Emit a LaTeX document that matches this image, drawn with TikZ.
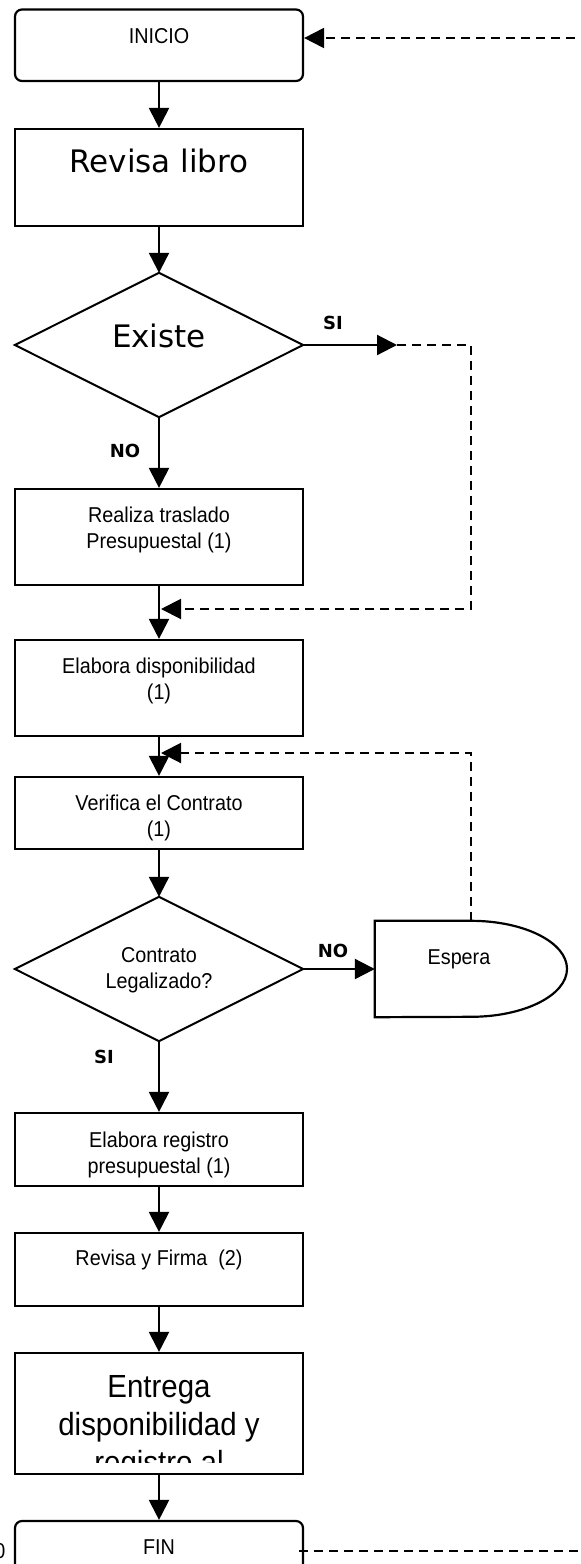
\documentclass[tikz,border=0pt]{standalone}
\usepackage{fontspec}
\setmainfont{Liberation Sans}[FakeStretch=0.92]
\newfontfamily\headfont{DejaVu Sans}
\usetikzlibrary{arrows.meta}

% multi-line label whose baseline is that of its first line
\newcommand\stackedlines[1]{\begin{tabular}[t]{@{}c@{}}#1\end{tabular}}

\begin{document}
\begin{tikzpicture}[x=1pt, y=-1pt,
  shapeline/.style={line width=2.2pt},
  box/.style={draw, shapeline, rectangle, inner sep=0pt, minimum width=288pt},
  terminal/.style={box, rounded corners=7pt},
  frame/.style={rectangle, inner sep=0pt},
  txt/.style={inner sep=0pt, anchor=base, font=\fontsize{21.5}{26}\selectfont},
  bigtxt/.style={inner sep=0pt, anchor=base, font=\headfont\fontsize{31}{36}\selectfont},
  hugetxt/.style={inner sep=0pt, anchor=base, font=\fontsize{32}{38}\selectfont},
  lbl/.style={inner sep=0pt, anchor=base, font=\headfont\bfseries\fontsize{18}{20}\selectfont},
  tip/.style={-{Triangle[length=20pt,width=20pt]}},
  flow/.style={draw, line width=2.2pt, tip},
  loopline/.style={draw, line width=2pt, dash pattern=on 9pt off 6pt},
  looparrow/.style={loopline, tip}
]
\useasboundingbox (0,0) rectangle (581,1564);
\clip (0,0) rectangle (581,1564);

% ---- shapes ----
\node[terminal, minimum height=71.5pt] (inicio) at (159,45.25) {};
\node[box, minimum height=97pt] (rev) at (159,177.5) {};
\node[frame, minimum width=288pt, minimum height=144pt] (d1) at (159,345) {};
\draw[shapeline, line width=2pt] (d1.north) -- (d1.east) -- (d1.south) -- (d1.west) -- cycle;
\node[box, minimum height=96pt] (rea) at (159,537) {};
\node[box, minimum height=96pt] (ela) at (159,688) {};
\node[box, minimum height=72pt] (ver) at (159,813) {};
\node[frame, minimum width=288pt, minimum height=144pt] (d2) at (159,969) {};
\draw[shapeline, line width=2pt] (d2.north) -- (d2.east) -- (d2.south) -- (d2.west) -- cycle;
\node[frame, minimum width=192pt, minimum height=96pt] (esp) at (471,969) {};
\draw[shapeline] (esp.north west) -- (esp.north)
  arc[start angle=90, end angle=-90, x radius=96pt, y radius=48pt]
  -- (esp.south west) -- cycle;
\node[box, minimum height=73pt] (reg) at (159,1149.5) {};
\node[box, minimum height=73pt] (fir) at (159,1269.5) {};
\node[box, minimum height=121pt] (ent) at (159,1413.5) {};
\node[terminal, minimum height=72pt] (fin) at (159,1557) {};

% ---- texts ----
\node[txt] (inicio-t) at (159,43) {INICIO};
\node[bigtxt] (rev-t) at (159,172) {Revisa libro};
\node[bigtxt] (d1-t) at (159,347) {Existe};
\node[txt] (rea-t) at (159,522) {\stackedlines{Realiza traslado\\Presupuestal (1)}};
\node[txt] (ela-t) at (159,673) {\stackedlines{Elabora disponibilidad\\(1)}};
\node[txt] (ver-t) at (159,810) {\stackedlines{Verifica el Contrato\\(1)}};
\node[txt] (d2-t) at (159,962) {\stackedlines{Contrato\\Legalizado?}};
\node[txt] (esp-t) at (459,964) {Espera};
\node[txt] (reg-t) at (159,1147) {\stackedlines{Elabora registro\\presupuestal (1)}};
\node[txt] (fir-t) at (159,1265) {Revisa y Firma\ \ (2)};
\begin{scope}
  \clip (15,1353) rectangle (303,1462);
  \node[hugetxt] (ent-t) at (159,1397)
    {\stackedlines{Entrega\\disponibilidad y\\registro al}};
\end{scope}
\node[txt] (fin-t) at (159,1554) {FIN};
\node[txt] (edge-t) at (0,1558) {0};

% ---- branch labels ----
\node[lbl] (si1) at (333,329) {SI};
\node[lbl] (no1) at (125,457) {NO};
\node[lbl] (no2) at (333,957) {NO};
\node[lbl] (si2) at (104,1063) {SI};

% ---- connectors ----
\draw[flow] (inicio) -- (rev);
\draw[flow] (rev) -- (d1.north);
\draw[flow] (d1.south) -- (rea);
\draw[flow] (rea) -- (ela);
\draw[flow] (ela) -- (ver);
\draw[flow] (ver) -- (d2.north);
\draw[flow] (d2.south) -- (reg);
\draw[flow] (reg) -- (fir);
\draw[flow] (fir) -- (ent);
\draw[flow] (ent) -- (fin);
\draw[flow] (d2.east) -- (esp.west);

% "SI" branch of Existe, rejoining above Elabora disponibilidad
\coordinate (siend) at (397,345);
\coordinate (sicorner) at (471,609);
\coordinate (join1) at (161,609);
\draw[flow] (d1.east) -- (siend);
\draw[looparrow] (siend) -| (sicorner) -- (join1);

% waiting loop back above Verifica el Contrato
\coordinate (join2) at (161,753);
\draw[looparrow] (esp.north) |- (join2);

% return loop from FIN back to INICIO
\coordinate (loopin) at (590,38);
\coordinate (loopout) at (590,1551);
\draw[looparrow] (loopin) -- (loopin -| inicio.east);
\draw[loopline] ([xshift=-5pt]loopout -| fin.east) -- (loopout);
\end{tikzpicture}
\end{document}
